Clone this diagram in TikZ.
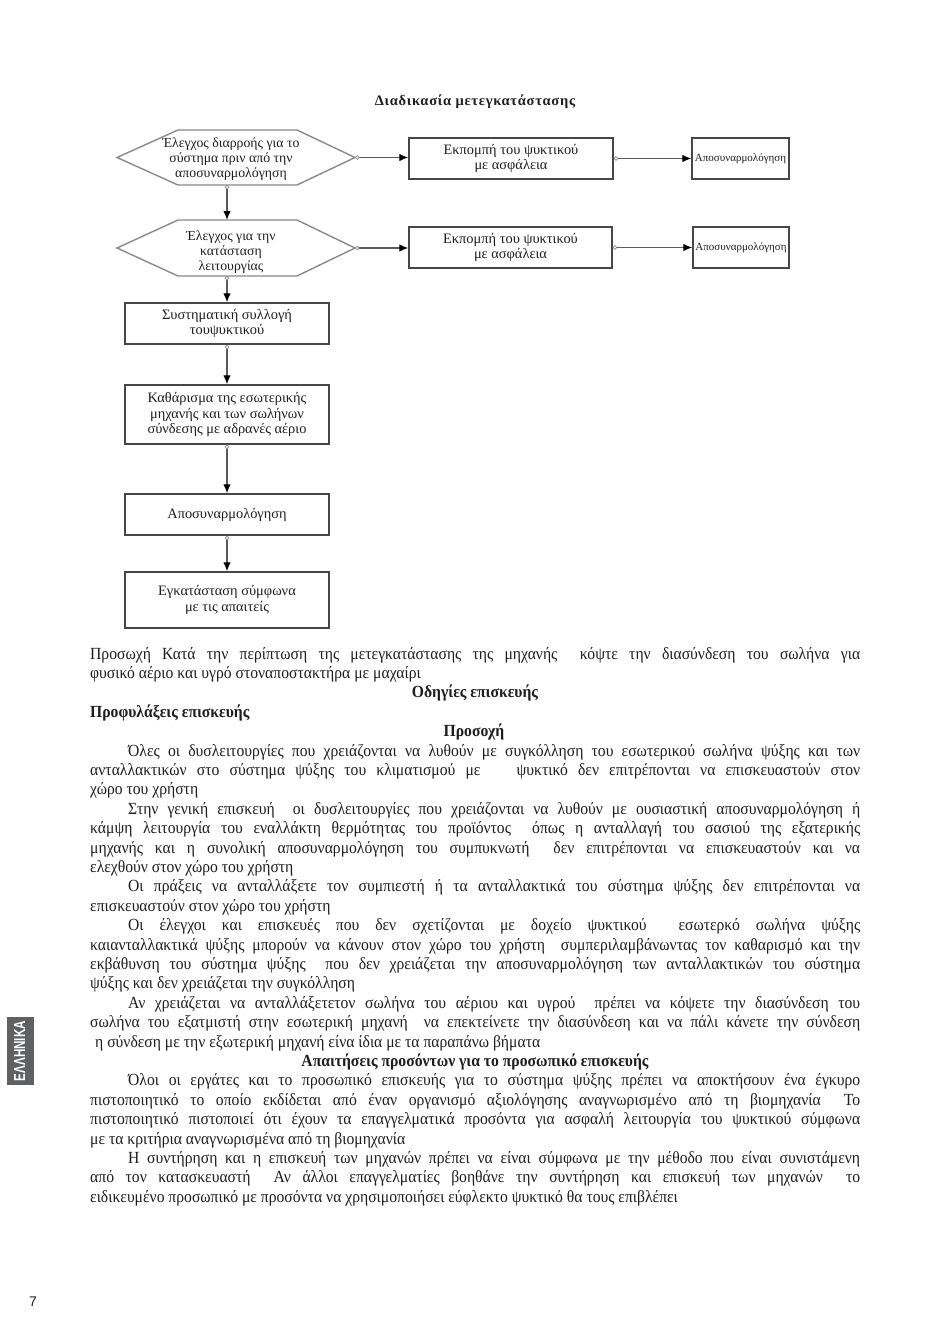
\documentclass[tikz,border=0pt]{standalone}
\usepackage{fontspec}
\setmainfont{Liberation Serif}
\newfontfamily\bodyfont[FakeStretch=0.92]{Liberation Serif}
\newfontfamily\titlefont[LetterSpace=5]{Liberation Serif}
\newfontfamily\tabfont{Liberation Sans}
\usetikzlibrary{arrows.meta,calc}
\definecolor{boxline}{HTML}{474747}
\definecolor{hexline}{HTML}{8A8A8A}
\definecolor{connline}{HTML}{5A5A5A}
\definecolor{tabgray}{HTML}{5F6062}
\definecolor{ink}{HTML}{1E1E1E}
\newcommand\jfull[1]{\makebox[770pt][s]{#1}}
\newcommand\jind[1]{\makebox[732pt][s]{#1}}
\begin{document}
\begin{tikzpicture}[x=1pt,y=-1pt,
  flowbox/.style={draw=boxline, line width=1.4pt, fill=white, inner sep=0pt, align=center,
    text=ink, font=\fontsize{14.4}{15.2}\selectfont},
  smallbox/.style={flowbox, font=\fontsize{11}{12}\selectfont},
  hexshape/.style={draw=hexline, line width=1.4pt, fill=white},
  hextext/.style={inner sep=0pt, align=center, text=ink, font=\fontsize{13.8}{15.2}\selectfont},
  conn/.style={draw=connline, line width=1.3pt,
    {Circle[open,length=4.5pt,width=4.5pt,line width=0.7pt,fill=white,color=hexline]}-{Latex[length=9pt,width=7.5pt,color=black]}},
  txt/.style={anchor=base west, inner sep=0pt, text=ink, font=\bodyfont\fontsize{17}{19.4}\selectfont},
  head/.style={anchor=base, inner sep=0pt, text=ink, font=\bodyfont\bfseries\fontsize{17}{19.4}\selectfont},
  headl/.style={txt, font=\bodyfont\bfseries\fontsize{17}{19.4}\selectfont}
]
\useasboundingbox[fill=white] (0,0) rectangle (950,1344);

% title
\node[anchor=base, inner sep=0pt, text=ink, font=\titlefont\bfseries\fontsize{14.5}{16}\selectfont] (title) at (475,105) {Διαδικασία μετεγκατάστασης};

% hexagon 1
\draw[hexshape] (178,130) -- (297,130) -- (355,157.5) -- (297,185) -- (178,185) -- (117,157.5) -- cycle;
\coordinate (h1r) at (355,157.5);
\coordinate (h1b) at (227,185);
\node[hextext] (h1) at (231,159) {Έλεγχος διαρροής για το\\σύστημα πριν από την\\αποσυναρμολόγηση};

% hexagon 2
\draw[hexshape] (178,220) -- (297,220) -- (355,248) -- (297,276) -- (178,276) -- (117,248) -- cycle;
\coordinate (h2t) at (227,220);
\coordinate (h2r) at (355,248);
\coordinate (h2b) at (227,276);
\node[hextext] (h2) at (231,252) {Έλεγχος για την\\κατάσταση\\λειτουργίας};

% right column boxes
\node[flowbox, minimum width=204pt, minimum height=41pt] (b1) at (511,158.5) {Εκπομπή του ψυκτικού\\με ασφάλεια};
\node[smallbox, minimum width=97pt, minimum height=41pt] (a1) at (740.5,158.5) {Αποσυναρμολόγηση};
\node[flowbox, minimum width=203pt, minimum height=41pt] (b2) at (510.5,247.5) {Εκπομπή του ψυκτικού\\με ασφάλεια};
\node[smallbox, minimum width=96pt, minimum height=41pt] (a2) at (741,247.5) {Αποσυναρμολόγηση};

% left column boxes
\node[flowbox, minimum width=204pt, minimum height=41pt] (c3) at (227,323.5) {Συστηματική συλλογή\\τουψυκτικού};
\node[flowbox, minimum width=204pt, minimum height=59pt] (c4) at (227,414.5) {Καθάρισμα της εσωτερικής\\μηχανής και των σωλήνων\\σύνδεσης με αδρανές αέριο};
\node[flowbox, minimum width=204pt, minimum height=41pt] (c5) at (227,514.5) {Αποσυναρμολόγηση};
\node[flowbox, minimum width=204pt, minimum height=56pt] (c6) at (227,600) {Εγκατάσταση σύμφωνα\\με τις απαιτείς};

% connectors
\draw[conn] (h1r) -- (h1r -| b1.west);
\draw[conn] (b1.east) -- (b1.east -| a1.west);
\draw[conn] (h2r) -- (h2r -| b2.west);
\draw[conn] (b2.east) -- (b2.east -| a2.west);
\draw[conn] (h1b) -- (h2t);
\draw[conn] (h2b) -- (c3.north);
\draw[conn] (c3.south) -- (c4.north);
\draw[conn] (c4.south) -- (c5.north);
\draw[conn] (c5.south) -- (c6.north);

% body text
\node[txt] (l1) at (90,659.0) {\jfull{Προσωχή Κατά την περίπτωση της μετεγκατάστασης της μηχανής \ κόψτε την διασύνδεση του σωλήνα για}};
\node[txt] (l2) at (90,678.4) {φυσικό αέριο και υγρό στοναποστακτήρα με μαχαίρι};
\node[head] (l3) at (475,697.8) {Οδηγίες επισκευής};
\node[headl] (l4) at (90,717.2) {Προφυλάξεις επισκευής};
\node[head] (l5) at (474,736.6) {Προσοχή};
\node[txt] (l6) at (128,756.0) {\jind{Όλες οι δυσλειτουργίες που χρειάζονται να λυθούν με συγκόλληση του εσωτερικού σωλήνα ψύξης και των}};
\node[txt] (l7) at (90,775.4) {\jfull{ανταλλακτικών στο σύστημα ψύξης του κλιματισμού με\hspace*{26pt} ψυκτικό δεν επιτρέπονται να επισκευαστούν στον}};
\node[txt] (l8) at (90,794.8) {χώρο του χρήστη};
\node[txt] (l9) at (128,814.2) {\jind{Στην γενική επισκευή \ οι δυσλειτουργίες που χρειάζονται να λυθούν με ουσιαστική αποσυναρμολόγηση ή}};
\node[txt] (l10) at (90,833.6) {\jfull{κάμψη λειτουργία του εναλλάκτη θερμότητας του προϊόντος \ όπως η ανταλλαγή του σασιού της εξατερικής}};
\node[txt] (l11) at (90,853.0) {\jfull{μηχανής και η συνολική αποσυναρμολόγηση του συμπυκνωτή \ δεν επιτρέπονται να επισκευαστούν και να}};
\node[txt] (l12) at (90,872.4) {ελεχθούν στον χώρο του χρήστη};
\node[txt] (l13) at (128,891.8) {\jind{Οι πράξεις να ανταλλάξετε τον συμπιεστή ή τα ανταλλακτικά του σύστημα ψύξης δεν επιτρέπονται να}};
\node[txt] (l14) at (90,911.2) {επισκευαστούν στον χώρο του χρήστη};
\node[txt] (l15) at (128,930.6) {\jind{Οι έλεγχοι και επισκευές που δεν σχετίζονται με δοχείο ψυκτικού \ εσωτερκό σωλήνα ψύξης}};
\node[txt] (l16) at (90,950.0) {\jfull{καιανταλλακτικά ψύξης μπορούν να κάνουν στον χώρο του χρήστη \ συμπεριλαμβάνωντας τον καθαρισμό και την}};
\node[txt] (l17) at (90,969.4) {\jfull{εκβάθυνση του σύστημα ψύξης \ που δεν χρειάζεται την αποσυναρμολόγηση των ανταλλακτικών του σύστημα}};
\node[txt] (l18) at (90,988.8) {ψύξης και δεν χρειάζεται την συγκόλληση};
\node[txt] (l19) at (128,1008.2) {\jind{Αν χρειάζεται να ανταλλάξετετον σωλήνα του αέριου και υγρού \ πρέπει να κόψετε την διασύνδεση του}};
\node[txt] (l20) at (90,1027.6) {\jfull{σωλήνα του εξατμιστή στην εσωτερική μηχανή \ να επεκτείνετε την διασύνδεση και να πάλι κάνετε την σύνδεση}};
\node[txt] (l21) at (95,1047.0) {η σύνδεση με την εξωτερική μηχανή είνα ίδια με τα παραπάνω βήματα};
\node[head] (l22) at (475,1066.4) {Απαιτήσεις προσόντων για το προσωπικό επισκευής};
\node[txt] (l23) at (128,1085.8) {\jind{Όλοι οι εργάτες και το προσωπικό επισκευής για το σύστημα ψύξης πρέπει να αποκτήσουν ένα έγκυρο}};
\node[txt] (l24) at (90,1105.2) {\jfull{πιστοποιητικό το οποίο εκδίδεται από έναν οργανισμό αξιολόγησης αναγνωρισμένο από τη βιομηχανία \ Το}};
\node[txt] (l25) at (90,1124.6) {\jfull{πιστοποιητικό πιστοποιεί ότι έχουν τα επαγγελματικά προσόντα για ασφαλή λειτουργία του ψυκτικού σύμφωνα}};
\node[txt] (l26) at (90,1144.0) {με τα κριτήρια αναγνωρισμένα από τη βιομηχανία};
\node[txt] (l27) at (128,1163.4) {\jind{Η συντήρηση και η επισκευή των μηχανών πρέπει να είναι σύμφωνα με την μέθοδο που είναι συνιστάμενη}};
\node[txt] (l28) at (90,1182.8) {\jfull{από τον κατασκευαστή \ Αν άλλοι επαγγελματίες βοηθάνε την συντήρηση και επισκευή των μηχανών \ το}};
\node[txt] (l29) at (90,1202.2) {ειδικευμένο προσωπικό με προσόντα να χρησιμοποιήσει εύφλεκτο ψυκτικό θα τους επιβλέπει};

% side tab
\fill[tabgray] (7,1017) rectangle (34,1085);
\node[rotate=90, inner sep=0pt, text=white] (tab) at (19.5,1051) {\resizebox{60pt}{11pt}{\tabfont\bfseries ΕΛΛΗΝΙΚΑ}};

% page number
\node[inner sep=0pt, anchor=base, text=ink, font=\tabfont\fontsize{14}{16}\selectfont] (pnum) at (33,1306) {7};
\end{tikzpicture}
\end{document}
